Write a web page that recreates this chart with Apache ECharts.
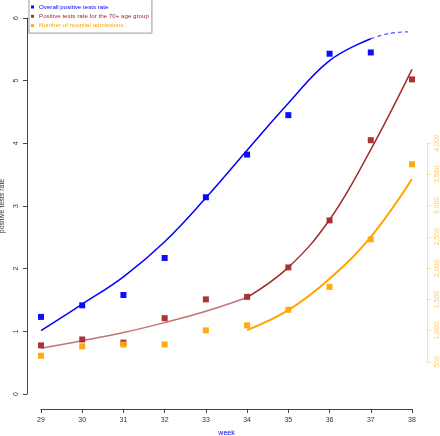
<!DOCTYPE html>
<html>
<head>
<meta charset="utf-8">
<script src="https://cdn.jsdelivr.net/npm/echarts@6/dist/echarts.min.js"></script>
<style>
html,body{margin:0;padding:0;background:#fff;}
#chart{width:440px;height:436px;}
</style>
</head>
<body>
<div id="chart"></div>
<script>
// ---- data ----
const weeks = [29, 30, 31, 32, 33, 34, 35, 36, 37, 38];
const overallWeeks = [29, 30, 31, 32, 33, 34, 35, 36, 37];
const overallRate = [1.23, 1.415, 1.58, 2.17, 3.14, 3.82, 4.45, 5.43, 5.45];
const elderlyRate = [0.776, 0.87, 0.82, 1.21, 1.51, 1.55, 2.02, 2.77, 4.05, 5.02];
const admissions = [600, 750, 780, 780, 1005, 1085, 1335, 1700, 2460, 3660];

// fitted curves
const overallFitWeeks = [29, 30, 31, 32, 33, 34, 35, 36, 37];
const overallFit = [1.01, 1.435, 1.87, 2.43, 3.13, 3.89, 4.64, 5.32, 5.67];
const overallFitExtWeeks = [37, 37.45, 37.9];
const overallFitExt = [5.67, 5.755, 5.78];
const elderlyFitEarlyWeeks = [29, 30, 31, 32, 33, 34];
const elderlyFitEarly = [0.73, 0.85, 0.98, 1.14, 1.32, 1.54];
const elderlyFitLateWeeks = [34, 35, 36, 37, 38];
const elderlyFitLate = [1.54, 2.02, 2.78, 3.9, 5.18];
const admissionsFitWeeks = [34, 35, 36, 37, 38];
const admissionsFit = [1010, 1328, 1830, 2500, 3425];

const leftTicks = [0, 1, 2, 3, 4, 5, 6];
const rightTicks = [500, 1000, 1500, 2000, 2500, 3000, 3500, 4000];

const names = ['Overall positive tests rate', 'Positive tests rate for the 70+ age group', 'Number of hospital admissions'];
const BLUE = '#0000FF', BROWN = '#A52A2A', ORANGE = '#FFA500';
const FONT = 'Liberation Sans, Arial, sans-serif';

const zip = (xs, ys) => xs.map((x, i) => [x, ys[i]]);

const chart = echarts.init(document.getElementById('chart'), null, {renderer: 'canvas'});
chart.setOption({
  animation: false,
  backgroundColor: '#fff',
  textStyle: {fontFamily: FONT},
  legend: {
    orient: 'vertical', left: 29, top: -0.5,
    padding: [3, 3, 3, 2], itemGap: 0.3,
    itemWidth: 3, itemHeight: 3, icon: 'rect',
    borderColor: '#999', borderWidth: 1, backgroundColor: '#fff',
    textStyle: {fontSize: 6.2, lineHeight: 9, fontFamily: FONT},
    data: [
      {name: names[0], textStyle: {color: BLUE}},
      {name: names[1], textStyle: {color: BROWN}},
      {name: names[2], textStyle: {color: ORANGE}}
    ]
  },
  grid: [
    {left: 41, right: 28, top: 18, bottom: 42, outerBoundsMode: 'none', containLabel: false},
    {left: 41, right: 28, top: 143, bottom: 74, outerBoundsMode: 'none', containLabel: false}
  ],
  xAxis: [
    {
      type: 'value', gridIndex: 0, min: 29, max: 38, interval: 1, offset: 15,
      name: 'week', nameLocation: 'middle', nameGap: 21,
      nameTextStyle: {color: BLUE, fontSize: 7, fontFamily: FONT},
      axisLine: {show: true, onZero: false, lineStyle: {color: '#444', width: 1}},
      axisTick: {show: true, length: 4, lineStyle: {color: '#444'}},
      axisLabel: {color: '#333', fontSize: 7, margin: 8, fontFamily: FONT},
      splitLine: {show: false}
    },
    {
      type: 'value', gridIndex: 1, min: 29, max: 38, show: false
    }
  ],
  yAxis: [
    {
      type: 'value', gridIndex: 0, min: leftTicks[0], max: leftTicks[leftTicks.length - 1], interval: 1, offset: 14,
      name: 'positive tests rate', nameLocation: 'middle', nameGap: 13, nameRotate: 90,
      nameTextStyle: {color: '#333', fontSize: 7, fontFamily: FONT},
      axisLine: {show: true, onZero: false, lineStyle: {color: '#444', width: 1}},
      axisTick: {show: true, length: 4, lineStyle: {color: '#444'}},
      axisLabel: {color: '#333', fontSize: 7, rotate: 90, margin: 7, fontFamily: FONT},
      splitLine: {show: false}
    },
    {
      type: 'value', gridIndex: 1, position: 'right', min: rightTicks[0], max: rightTicks[rightTicks.length - 1], interval: 500, offset: 15,
      axisLine: {show: true, lineStyle: {color: 'rgba(255,165,0,0.35)', width: 1}},
      axisTick: {show: true, length: 4, lineStyle: {color: 'rgba(255,165,0,0.35)'}},
      axisLabel: {color: 'rgba(255,165,0,0.6)', fontSize: 7, rotate: 90, margin: 7, fontFamily: FONT},
      splitLine: {show: false}
    }
  ],
  series: [
    {
      name: 'overallFit', type: 'line', xAxisIndex: 0, yAxisIndex: 0,
      data: zip(overallFitWeeks, overallFit), smooth: 0.4, showSymbol: false,
      lineStyle: {color: BLUE, width: 1.5}, z: 2
    },
    {
      name: 'overallFitExt', type: 'line', xAxisIndex: 0, yAxisIndex: 0,
      data: zip(overallFitExtWeeks, overallFitExt), smooth: 0.4, showSymbol: false,
      lineStyle: {color: BLUE, width: 1.2, type: [4, 3], opacity: 0.7}, z: 2
    },
    {
      name: 'elderlyFitEarly', type: 'line', xAxisIndex: 0, yAxisIndex: 0,
      data: zip(elderlyFitEarlyWeeks, elderlyFitEarly), smooth: 0.4, showSymbol: false,
      lineStyle: {color: 'rgba(165,42,42,0.65)', width: 1.5}, z: 2
    },
    {
      name: 'elderlyFitLate', type: 'line', xAxisIndex: 0, yAxisIndex: 0,
      data: zip(elderlyFitLateWeeks, elderlyFitLate), smooth: 0.4, showSymbol: false,
      lineStyle: {color: BROWN, width: 1.5}, z: 2
    },
    {
      name: 'admissionsFit', type: 'line', xAxisIndex: 1, yAxisIndex: 1,
      data: zip(admissionsFitWeeks, admissionsFit), smooth: 0.4, showSymbol: false,
      lineStyle: {color: ORANGE, width: 2}, z: 2
    },
    {
      name: names[0], type: 'scatter', xAxisIndex: 0, yAxisIndex: 0,
      data: zip(overallWeeks, overallRate), symbol: 'rect', symbolSize: 6,
      itemStyle: {color: BLUE, opacity: 0.95}, z: 3
    },
    {
      name: names[1], type: 'scatter', xAxisIndex: 0, yAxisIndex: 0,
      data: zip(weeks, elderlyRate), symbol: 'rect', symbolSize: 6,
      itemStyle: {color: BROWN, opacity: 0.95}, z: 3
    },
    {
      name: names[2], type: 'scatter', xAxisIndex: 1, yAxisIndex: 1,
      data: zip(weeks, admissions), symbol: 'rect', symbolSize: 6,
      itemStyle: {color: ORANGE, opacity: 0.95}, z: 4
    }
  ]
});
</script>
</body>
</html>
